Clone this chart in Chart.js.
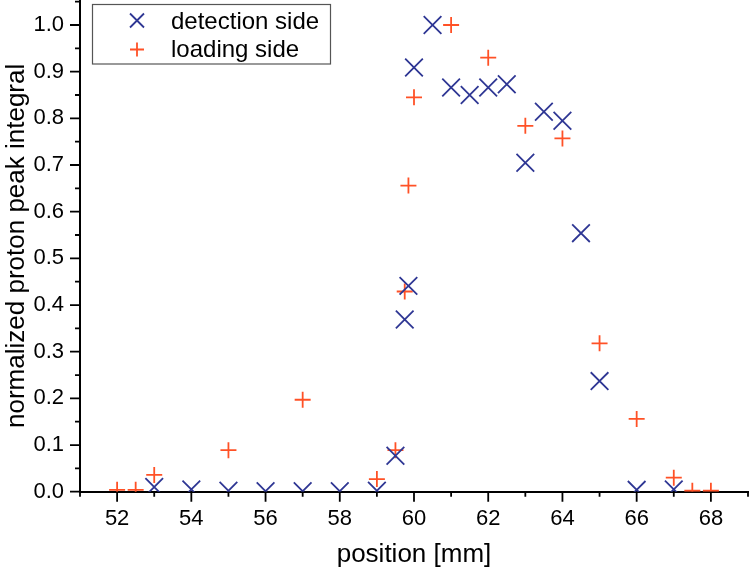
<!DOCTYPE html>
<html>
<head>
<meta charset="utf-8">
<script src="https://cdn.jsdelivr.net/npm/chart.js@4.4.1/dist/chart.umd.min.js"></script>
<style>
  html, body { margin: 0; padding: 0; background: #ffffff; }
  #wrap { width: 750px; height: 575px; position: relative; }
</style>
</head>
<body>
<div id="wrap"><canvas id="c" width="750" height="575"></canvas></div>
<script>
// ---- data ----
const detectionLabel = 'detection side';
const detectionX = [53, 54, 55, 56, 57, 58, 59, 59.5, 59.75, 59.85, 60, 60.5, 61, 61.5, 62, 62.5, 63, 63.5, 64, 64.5, 65, 66, 67];
const detectionY = [0.010, 0.005, 0.002, 0.001, 0.001, 0.001, 0.002, 0.077, 0.369, 0.441, 0.909, 1.000, 0.866, 0.850, 0.866, 0.873, 0.705, 0.814, 0.795, 0.554, 0.237, 0.004, 0.005];

const loadingLabel = 'loading side';
const loadingX = [52, 52.5, 53, 55, 57, 59, 59.5, 59.75, 59.85, 60, 61, 62, 63, 64, 65, 66, 67, 67.5, 68];
const loadingY = [0.004, 0.004, 0.036, 0.089, 0.197, 0.027, 0.089, 0.429, 0.656, 0.845, 1.000, 0.930, 0.784, 0.757, 0.318, 0.156, 0.030, 0.002, 0.002];

const xTitle = 'position [mm]';
const yTitle = 'normalized proton peak integral';
const xMajorTicks = [52, 54, 56, 58, 60, 62, 64, 66, 68];
const yMajorTicks = [0.0, 0.1, 0.2, 0.3, 0.4, 0.5, 0.6, 0.7, 0.8, 0.9, 1.0];

const BLUE = '#2f3794';
const ORANGE = '#ff5126';
const FONT = '"Liberation Sans", Arial, Helvetica, sans-serif';

function toPoints(xs, ys) { return xs.map((x, i) => ({ x: x, y: ys[i] })); }

function isMajor(v, list) { return list.some(m => Math.abs(m - v) < 1e-6); }

function noPad(s) { s.paddingTop = 0; s.paddingBottom = 0; s.paddingLeft = 0; s.paddingRight = 0; }

// tick marks: long for labelled ticks, short for minor ones
const tickMarks = {
  id: 'tickMarks',
  afterDraw(chart) {
    const ctx = chart.ctx;
    const xs = chart.scales.x, ys = chart.scales.y;
    ctx.save();
    ctx.strokeStyle = '#000';
    ctx.lineWidth = 1.8;
    ctx.beginPath();
    xs.ticks.forEach(t => {
      const p = xs.getPixelForValue(t.value);
      const len = isMajor(t.value, xMajorTicks) ? 10 : 5;
      ctx.moveTo(p, xs.top);
      ctx.lineTo(p, xs.top + len);
    });
    ys.ticks.forEach(t => {
      const p = ys.getPixelForValue(t.value);
      const len = isMajor(t.value, yMajorTicks) ? 10 : 5;
      ctx.moveTo(ys.right, p);
      ctx.lineTo(ys.right - len, p);
    });
    ctx.stroke();
    ctx.restore();
  }
};

// boxed legend inside the plot area (upper left)
const boxLegend = {
  id: 'boxLegend',
  afterDraw(chart) {
    const ctx = chart.ctx;
    const a = chart.chartArea;
    const bx = a.left + 12.5, by = a.top + 4.5, bw = 238, bh = 59.5;
    ctx.save();
    ctx.strokeStyle = '#555';
    ctx.lineWidth = 1.2;
    ctx.strokeRect(bx, by, bw, bh);
    const items = chart.data.datasets;
    const rowY = [by + 16, by + 45];
    const baseY = [by + 24, by + 52.5];
    items.forEach((ds, i) => {
      const cx = bx + 44.5, cy = rowY[i];
      ctx.strokeStyle = ds.borderColor;
      ctx.lineWidth = 1.8;
      ctx.beginPath();
      const h = 7;
      if (ds.pointStyle === 'crossRot') {
        ctx.moveTo(cx - h, cy - h); ctx.lineTo(cx + h, cy + h);
        ctx.moveTo(cx + h, cy - h); ctx.lineTo(cx - h, cy + h);
      } else {
        ctx.moveTo(cx - h, cy); ctx.lineTo(cx + h, cy);
        ctx.moveTo(cx, cy - h); ctx.lineTo(cx, cy + h);
      }
      ctx.stroke();
      ctx.fillStyle = '#000';
      ctx.font = '24px ' + FONT;
      ctx.textBaseline = 'alphabetic';
      ctx.textAlign = 'left';
      ctx.fillText(ds.label, bx + 78.5, baseY[i]);
    });
    ctx.restore();
  }
};

new Chart(document.getElementById('c'), {
  type: 'scatter',
  data: {
    datasets: [
      {
        label: detectionLabel,
        data: toPoints(detectionX, detectionY),
        pointStyle: 'crossRot',
        pointRadius: 12.5,
        pointBorderWidth: 1.8,
        borderColor: BLUE,
        backgroundColor: BLUE,
        showLine: false,
        clip: 0
      },
      {
        label: loadingLabel,
        data: toPoints(loadingX, loadingY),
        pointStyle: 'cross',
        pointRadius: 8,
        pointBorderWidth: 1.8,
        borderColor: ORANGE,
        backgroundColor: ORANGE,
        showLine: false,
        clip: 0
      }
    ]
  },
  options: {
    responsive: false,
    animation: false,
    events: [],
    layout: { autoPadding: false, padding: { left: 0, right: 2, top: 0, bottom: 0 } },
    plugins: { legend: { display: false }, tooltip: { enabled: false } },
    scales: {
      x: {
        type: 'linear',
        min: 51,
        max: 69,
        bounds: 'data',
        grid: { display: false, drawTicks: false, tickLength: 0 },
        border: { display: true, color: '#000', width: 2 },
        ticks: {
          stepSize: 1,
          autoSkip: false,
          maxRotation: 0,
          includeBounds: false,
          padding: 14,
          color: '#000',
          font: { family: FONT, size: 22 },
          callback: v => isMajor(v, xMajorTicks) ? String(Math.round(v)) : ''
        },
        title: {
          display: true,
          text: xTitle,
          color: '#000',
          font: { family: FONT, size: 26 },
          padding: { top: 0, bottom: 5 }
        },
        afterFit: s => { s.height = 83.3; noPad(s); }
      },
      y: {
        type: 'linear',
        min: 0,
        max: 1.0536,
        bounds: 'data',
        grid: { display: false, drawTicks: false, tickLength: 0 },
        border: { display: true, color: '#000', width: 2 },
        ticks: {
          stepSize: 0.05,
          autoSkip: false,
          includeBounds: false,
          padding: 16,
          color: '#000',
          font: { family: FONT, size: 22 },
          callback: v => isMajor(v, yMajorTicks) ? v.toFixed(1) : ''
        },
        title: {
          display: true,
          text: yTitle,
          color: '#000',
          font: { family: FONT, size: 26 },
          padding: { top: 1, bottom: 0 }
        },
        afterFit: s => { s.width = 80; noPad(s); }
      }
    }
  },
  plugins: [tickMarks, boxLegend]
});
</script>
</body>
</html>
